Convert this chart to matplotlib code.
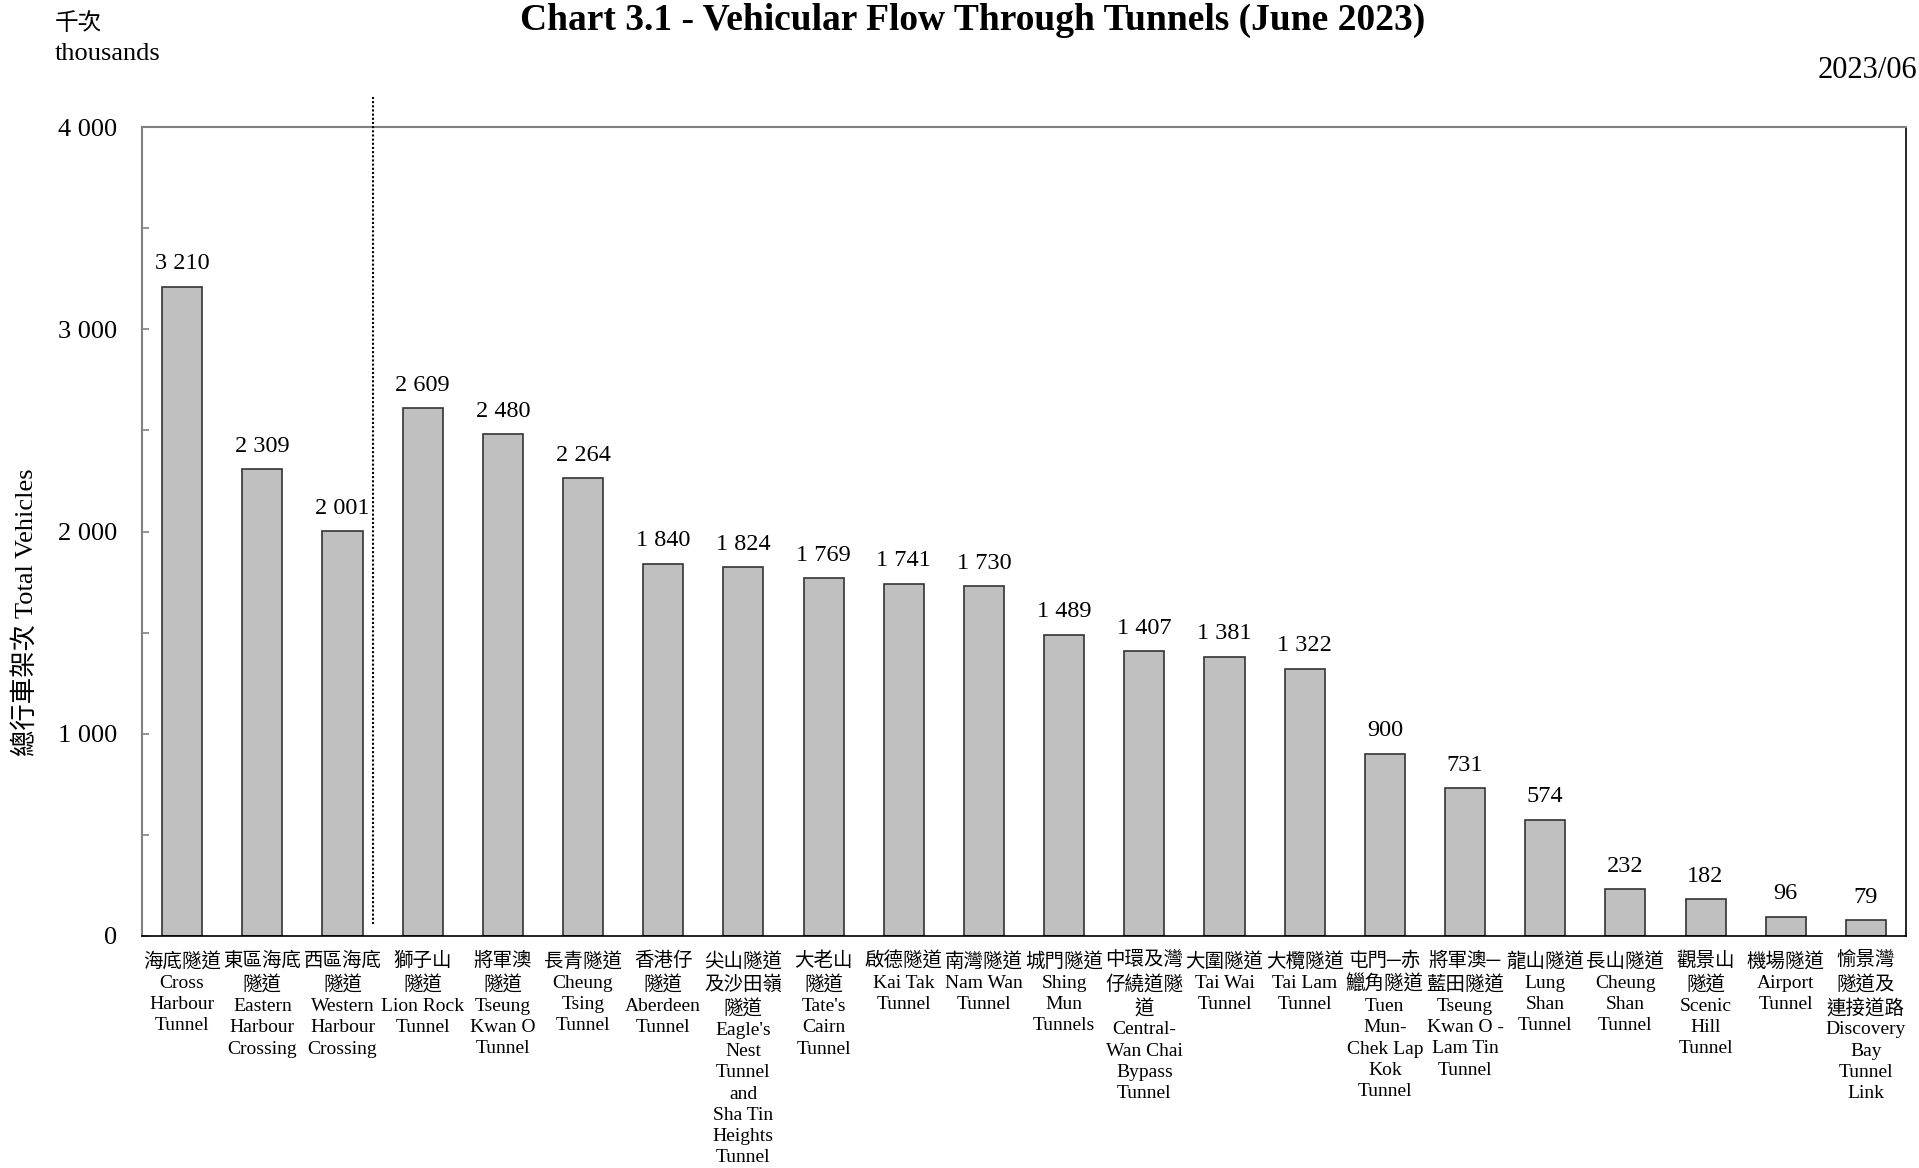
import matplotlib
matplotlib.use("Agg")
import matplotlib.pyplot as plt
from matplotlib.ticker import MultipleLocator, FixedLocator

plt.rcParams['font.family'] = ['Liberation Serif', 'Noto Sans CJK TC', 'DejaVu Sans']

categories = [
    "海底隧道\nCross\nHarbour\nTunnel",
    "東區海底\n隧道\nEastern\nHarbour\nCrossing",
    "西區海底\n隧道\nWestern\nHarbour\nCrossing",
    "獅子山\n隧道\nLion Rock\nTunnel",
    "將軍澳\n隧道\nTseung\nKwan O\nTunnel",
    "長青隧道\nCheung\nTsing\nTunnel",
    "香港仔\n隧道\nAberdeen\nTunnel",
    "尖山隧道\n及沙田嶺\n隧道\nEagle's\nNest\nTunnel\nand\nSha Tin\nHeights\nTunnel",
    "大老山\n隧道\nTate's\nCairn\nTunnel",
    "啟德隧道\nKai Tak\nTunnel",
    "南灣隧道\nNam Wan\nTunnel",
    "城門隧道\nShing\nMun\nTunnels",
    "中環及灣\n仔繞道隧\n道\nCentral-\nWan Chai\nBypass\nTunnel",
    "大圍隧道\nTai Wai\nTunnel",
    "大欖隧道\nTai Lam\nTunnel",
    "屯門─赤\n鱲角隧道\nTuen\nMun-\nChek Lap\nKok\nTunnel",
    "將軍澳─\n藍田隧道\nTseung\nKwan O -\nLam Tin\nTunnel",
    "龍山隧道\nLung\nShan\nTunnel",
    "長山隧道\nCheung\nShan\nTunnel",
    "觀景山\n隧道\nScenic\nHill\nTunnel",
    "機場隧道\nAirport\nTunnel",
    "愉景灣\n隧道及\n連接道路\nDiscovery\nBay\nTunnel\nLink",
]
values = [3210, 2309, 2001, 2609, 2480, 2264, 1840, 1824, 1769, 1741, 1730,
          1489, 1407, 1381, 1322, 900, 731, 574, 232, 182, 96, 79]
yticks = [0, 1000, 2000, 3000, 4000]
ytick_labels = ["0", "1 000", "2 000", "3 000", "4 000"]
divider_x = 2.38

def fmt(v):
    return f"{v:,}".replace(",", " ")

fig = plt.figure(figsize=(19.19, 11.68), dpi=100)
ax = fig.add_axes([142/1919, 1-936/1168, (1906-142)/1919, (936-127)/1168])

x = list(range(len(values)))
ax.bar(x, values, width=0.5, color="#C0C0C0", edgecolor="#333333", linewidth=1.2, zorder=2)

for xi, v in zip(x, values):
    ax.annotate(fmt(v), (xi, v), xytext=(0, 9), textcoords="offset points",
                ha="center", va="bottom", fontsize=17.5)

ax.set_xlim(-0.5, len(values) - 0.5)
ax.set_ylim(0, 4000)
ax.yaxis.set_major_locator(FixedLocator(yticks))
ax.set_yticklabels(ytick_labels, fontsize=19)
ax.yaxis.set_minor_locator(MultipleLocator(500))
ax.tick_params(axis="y", which="both", direction="in", length=5, color="#808080",
               width=1.2, pad=18)
ax.set_xticks(x)
ax.set_xticklabels(categories, fontsize=14, linespacing=1.33, va="top")
ax.tick_params(axis="x", length=0, pad=11)

for s in ["left", "top"]:
    ax.spines[s].set_color("#808080")
    ax.spines[s].set_linewidth(1.5)
for s in ["right", "bottom"]:
    ax.spines[s].set_color("#000000")
    ax.spines[s].set_linewidth(1.2)

ax.plot([divider_x, divider_x], [60, 4150], color="black", linestyle=(0, (1, 1)),
        linewidth=1.5, clip_on=False, zorder=3)

fig.text(25/1919, 1-612/1168, "總行車架次 Total Vehicles", rotation=90, fontsize=19,
         ha="center", va="center")

fig.text(973/1919, 1-20/1168, "Chart 3.1 - Vehicular Flow Through Tunnels (June 2023)",
         ha="center", va="center", fontsize=27, fontweight="bold")
fig.text(55/1919, 1-24/1168, "千次", ha="left", va="center", fontsize=17)
fig.text(55/1919, 1-54/1168, "thousands", ha="left", va="center", fontsize=19)
fig.text(1917/1919, 1-70/1168, "2023/06", ha="right", va="center", fontsize=22)

fig.savefig("out.png", dpi=100)
